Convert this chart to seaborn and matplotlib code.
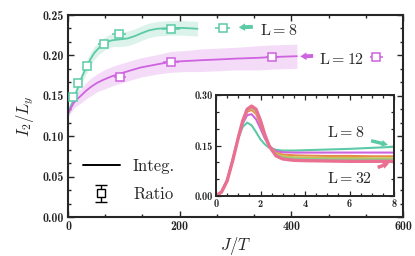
import numpy as np
import pandas as pd
import matplotlib
matplotlib.use("Agg")
import matplotlib.pyplot as plt
import seaborn as sns
from matplotlib.lines import Line2D
from matplotlib.ticker import AutoMinorLocator, MultipleLocator, FormatStrFormatter

# ---------------- data ----------------
teal = "#5ccaa6"
violet = "#cf62e0"

# main panel: integrated curves (J/T, I2/Ly) with uncertainty half-width
l8_x = [0, 3, 6, 10, 15, 20, 26, 32, 40, 47, 55, 64, 75, 82, 95, 107, 120, 130, 145, 160, 184, 205, 232]
l8_y = [0.128, 0.134, 0.139, 0.145, 0.155, 0.164, 0.175, 0.184, 0.195, 0.203, 0.209, 0.214, 0.218, 0.219, 0.220, 0.221, 0.224, 0.227, 0.231, 0.233, 0.234, 0.234, 0.233]
l8_w = [0.004, 0.005, 0.005, 0.006, 0.006, 0.007, 0.007, 0.008, 0.008, 0.008, 0.008, 0.008, 0.008, 0.008, 0.009, 0.009, 0.009, 0.009, 0.009, 0.009, 0.009, 0.009, 0.009]

l12_x = [0, 3, 6, 10, 15, 23, 32, 41, 52, 64, 78, 91, 110, 130, 160, 184, 210, 237, 270, 300, 340, 366, 410]
l12_y = [0.128, 0.132, 0.136, 0.141, 0.145, 0.150, 0.156, 0.161, 0.166, 0.170, 0.174, 0.177, 0.181, 0.185, 0.189, 0.192, 0.193, 0.194, 0.195, 0.196, 0.197, 0.198, 0.199]
l12_w = [0.004, 0.005, 0.006, 0.007, 0.008, 0.009, 0.010, 0.011, 0.011, 0.012, 0.012, 0.012, 0.012, 0.012, 0.012, 0.013, 0.013, 0.014, 0.014, 0.014, 0.015, 0.015, 0.015]

# ratio estimates (squares)
r8_x = [9, 18, 34, 64, 91, 184]
r8_y = [0.149, 0.166, 0.187, 0.214, 0.2265, 0.233]
r8_xe = [4, 6, 8, 10, 12, 16]
r12_x = [93, 184, 366]
r12_y = [0.1735, 0.192, 0.198]
r12_xe = [10, 14, 12]

# inset: curves vs J/T for different L
ins_x = [0, 0.25, 0.5, 0.75, 1.0, 1.2, 1.4, 1.6, 1.8, 2.0, 2.2, 2.4, 2.7, 3.0, 3.5, 4, 5, 6, 7, 8]
ins_labels = ["8", "12", "16", "20", "24", "32"]
ins_colors = [teal, violet, "#e88a4e", "#c8c450", "#86cf92", "#ea7092"]
ins_y = {
    "8":  [0, 0.013, 0.048, 0.110, 0.172, 0.205, 0.218, 0.210, 0.190, 0.168, 0.153, 0.143, 0.137, 0.135, 0.135, 0.136, 0.138, 0.140, 0.143, 0.146],
    "12": [0, 0.012, 0.046, 0.107, 0.172, 0.215, 0.240, 0.243, 0.228, 0.200, 0.170, 0.148, 0.133, 0.130, 0.129, 0.129, 0.129, 0.129, 0.129, 0.129],
    "16": [0, 0.012, 0.045, 0.106, 0.173, 0.219, 0.250, 0.256, 0.244, 0.212, 0.176, 0.149, 0.128, 0.123, 0.121, 0.120, 0.119, 0.119, 0.118, 0.118],
    "20": [0, 0.012, 0.045, 0.106, 0.173, 0.221, 0.254, 0.261, 0.250, 0.218, 0.179, 0.149, 0.125, 0.118, 0.115, 0.114, 0.113, 0.113, 0.112, 0.112],
    "24": [0, 0.012, 0.045, 0.105, 0.173, 0.222, 0.256, 0.264, 0.254, 0.221, 0.180, 0.148, 0.122, 0.114, 0.111, 0.110, 0.109, 0.108, 0.108, 0.108],
    "32": [0, 0.012, 0.045, 0.105, 0.173, 0.223, 0.258, 0.267, 0.258, 0.224, 0.181, 0.147, 0.119, 0.110, 0.106, 0.105, 0.104, 0.103, 0.103, 0.103],
}

main_xticks = [0, 200, 400, 600]
main_yticks = [0.00, 0.05, 0.10, 0.15, 0.20, 0.25]
ins_xticks = [0, 2, 4, 6, 8]
ins_yticks = [0.00, 0.15, 0.30]

# ---------------- style ----------------
sns.set_style("ticks")
plt.rcParams["mathtext.fontset"] = "cm"
plt.rcParams["axes.unicode_minus"] = False
plt.rcParams["font.family"] = ["cmr10", "DejaVu Serif"]

fig = plt.figure(figsize=(4.15, 2.56), dpi=100)
ax = fig.add_axes([68 / 415, 39 / 256, 335 / 415, 202 / 256])

df8 = pd.DataFrame({"x": l8_x, "y": l8_y})
df12 = pd.DataFrame({"x": l12_x, "y": l12_y})
ax.fill_between(l8_x, np.array(l8_y) - np.array(l8_w), np.array(l8_y) + np.array(l8_w),
                color=teal, alpha=0.22, lw=0, zorder=1)
ax.fill_between(l12_x, np.array(l12_y) - np.array(l12_w), np.array(l12_y) + np.array(l12_w),
                color=violet, alpha=0.22, lw=0, zorder=1)
sns.lineplot(data=df8, x="x", y="y", ax=ax, color=teal, lw=1.3, zorder=2)
sns.lineplot(data=df12, x="x", y="y", ax=ax, color=violet, lw=1.3, zorder=2)

MS = 5.6
for xs, ys, xe, c in [(r8_x, r8_y, r8_xe, teal), (r12_x, r12_y, r12_xe, violet)]:
    ax.errorbar(xs, ys, xerr=xe, fmt="s", ms=MS, mfc="white", mec=c, mew=1.1,
                ecolor=c, elinewidth=1.1, capsize=0, zorder=3)

# labels with arrows
ax.errorbar([277], [0.2335], xerr=[14], fmt="s", ms=MS, mfc="white", mec=teal, mew=1.1,
            ecolor=teal, elinewidth=1.1, capsize=0, zorder=3, clip_on=False)
ax.annotate("", xy=(301, 0.2345), xytext=(336, 0.2355),
            arrowprops=dict(arrowstyle="simple,head_length=0.45,head_width=0.55,tail_width=0.28",
                        color=teal, lw=0))
ax.text(343, 0.2305, r"$\mathrm{L}=8$", fontsize=11.5, va="center", ha="left")

ax.errorbar([552], [0.1985], xerr=[12], fmt="s", ms=MS, mfc="white", mec=violet, mew=1.1,
            ecolor=violet, elinewidth=1.1, capsize=0, zorder=3, clip_on=False)
ax.annotate("", xy=(411, 0.1985), xytext=(444, 0.1995),
            arrowprops=dict(arrowstyle="simple,head_length=0.45,head_width=0.55,tail_width=0.28",
                        color=violet, lw=0))
ax.text(450, 0.1955, r"$\mathrm{L}=12$", fontsize=11.5, va="center", ha="left")

ax.set_xlim(0, 600)
ax.set_ylim(0, 0.25)
ax.set_xticks(main_xticks)
ax.set_yticks(main_yticks)
ax.yaxis.set_major_formatter(FormatStrFormatter("%.2f"))
ax.xaxis.set_minor_locator(AutoMinorLocator(3))
ax.yaxis.set_minor_locator(AutoMinorLocator(3))
ax.tick_params(which="both", direction="in", top=True, right=True, width=1.0)
ax.tick_params(which="major", length=4, pad=3)
ax.tick_params(which="minor", length=2)
for lab in ax.get_xticklabels() + ax.get_yticklabels():
    lab.set_fontfamily("cmb10")
    lab.set_fontsize(8.6)
for s in ax.spines.values():
    s.set_linewidth(1.5)
    s.set_visible(True)
ax.set_xlabel(r"$J/T$", fontsize=12, labelpad=1)
ax.set_ylabel(r"$I_2/L_y$", fontsize=12, labelpad=5)

# legend
h_line = Line2D([], [], color="black", lw=1.4)
h_err = ax.errorbar([np.nan], [np.nan], yerr=[0.01], fmt="s", ms=5.5, mfc="white", mec="black",
                    mew=1.0, ecolor="black", elinewidth=1.0, capsize=4)
leg = ax.legend([h_line, h_err], ["Integ.", "Ratio"], loc="lower left", frameon=False,
                fontsize=12, handlelength=2.2, handletextpad=0.8, labelspacing=0.75,
                bbox_to_anchor=(0.0, 0.0))

# ---------------- inset ----------------
ins = fig.add_axes([216 / 415, 60 / 256, 178 / 415, 101 / 256])
for lab, c in zip(ins_labels, ins_colors):
    d = pd.DataFrame({"x": ins_x, "y": ins_y[lab]})
    sns.lineplot(data=d, x="x", y="y", ax=ins, color=c, lw=2.4 if lab == "32" else 1.5)
ins.set_xlim(0, 8)
ins.set_ylim(0, 0.30)
ins.set_xticks(ins_xticks)
ins.set_yticks(ins_yticks)
ins.yaxis.set_major_formatter(FormatStrFormatter("%.2f"))
ins.xaxis.set_minor_locator(AutoMinorLocator(4))
ins.yaxis.set_minor_locator(AutoMinorLocator(3))
ins.tick_params(which="both", direction="in", top=True, right=True, width=0.9)
ins.tick_params(which="major", length=3.5, pad=2)
ins.tick_params(which="minor", length=2)
for lab in ins.get_xticklabels() + ins.get_yticklabels():
    lab.set_fontfamily("cmb10")
    lab.set_fontsize(7.5)
for s in ins.spines.values():
    s.set_linewidth(1.4)
    s.set_visible(True)
ins.set_xlabel("")
ins.set_ylabel("")
ins.text(5.0, 0.19, r"$\mathrm{L}=8$", fontsize=11.5, va="center", ha="left")
ins.text(5.0, 0.052, r"$\mathrm{L}=32$", fontsize=11.5, va="center", ha="left")
ins.annotate("", xy=(7.85, 0.150), xytext=(6.85, 0.166),
             arrowprops=dict(arrowstyle="simple,head_length=0.45,head_width=0.5,tail_width=0.25",
                             color=teal, lw=0))
ins.annotate("", xy=(7.9, 0.100), xytext=(7.15, 0.082),
             arrowprops=dict(arrowstyle="simple,head_length=0.45,head_width=0.5,tail_width=0.25",
                             color=ins_colors[-1], lw=0))

fig.savefig("out.png", dpi=100)
